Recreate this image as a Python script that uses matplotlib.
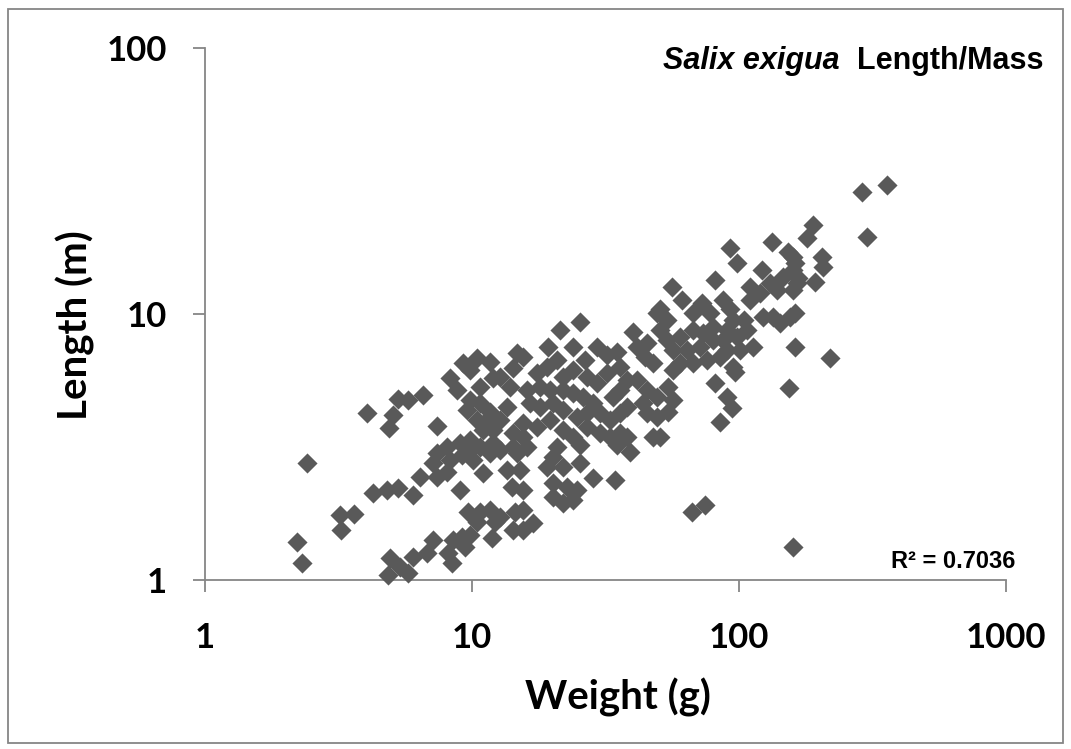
import matplotlib
matplotlib.use("Agg")
import matplotlib.pyplot as plt
from matplotlib.patches import Rectangle

# weight (g) / length (m)
weight_g = [
    2.21, 2.31, 2.41, 3.2, 3.61, 3.23, 4.04, 4.26,
    5.28, 5.75, 6.55, 5.06, 4.89, 7.39,
    4.93, 4.85, 5.37, 5.75, 6.01, 6.78, 7.14, 8.13, 8.41, 8.49, 9.18, 9.42, 9.83,
    9.66, 10.7, 10.4, 11.7, 12.2, 12.7, 11.9, 14.2, 14.5,
    4.81, 5.28, 6.01, 6.38, 7.14, 7.39, 8.06, 8.27, 9.02, 9.18, 9.83, 10.1, 10.7,
    11.0, 12.0, 11.7, 13.5, 14.1, 14.7,
    8.27, 8.79, 9.25, 9.83, 10.4, 10.7, 11.7, 12.0, 9.83, 9.58, 10.7, 11.7, 10.4,
    11.0, 12.0, 12.7, 13.5, 13.9, 14.2, 14.7, 12.7, 7.39, 8.06, 9.02, 9.83, 12.7,
    14.2, 14.2, 11.4,
    25.4, 21.4, 19.3, 23.9, 29.4, 26.5, 32.0, 34.9, 40.1, 41.5, 45.2, 49.3, 44.5,
    47.6, 15.5, 17.5, 19.1, 20.8, 21.9, 23.9, 27.0, 29.4, 32.0, 35.8, 38.1, 41.5,
    45.2, 35.8, 33.7, 16.1, 18.0, 19.6, 21.9, 23.9, 26.0, 28.4, 30.2, 32.9, 35.8,
    38.1, 43.7, 49.3, 45.2, 16.5, 18.0, 20.1, 21.9, 24.7, 27.0, 27.0, 30.2, 15.5,
    15.5, 17.5, 19.6, 21.9, 23.9, 32.9, 35.8, 49.3, 47.6,
    16.1, 20.8, 25.4, 20.1, 19.1, 21.9, 25.4, 28.4, 34.3, 20.1, 22.7, 24.7, 20.1,
    21.9, 23.9, 15.5, 15.5, 16.9, 15.5, 15.1, 34.9, 39.0, 38.1,
    92.5, 98.3, 133, 153, 122, 56.1, 61.2, 81.3, 72.6, 67.3, 50.6, 53.7, 77.8,
    87.1, 92.5, 110, 110, 120, 131, 139, 146, 159, 165, 123, 134, 143, 155, 95,
    104, 90.2, 80, 73.3, 67.3, 60.1, 53.7, 50.6, 56.6, 63.8, 71.4, 80, 87.1, 98.3,
    107, 113, 101, 90.2, 60.1, 67.3, 75.9, 84.9, 95, 56.6,
    54.2, 56.6, 54.2, 81.3, 90.2, 94.2, 84.9, 96.6, 50.6, 66.7, 74.6, 159,
    289, 358, 302, 189, 180, 205, 206, 193, 159, 162, 166, 159, 162, 162, 219, 154,
]
length_m = [
    1.39, 1.16, 2.75, 1.75, 1.77, 1.54, 4.24, 2.12,
    4.79, 4.75, 4.96, 4.17, 3.73, 3.79,
    1.21, 1.04, 1.12, 1.06, 1.22, 1.26, 1.41, 1.26, 1.16, 1.41, 1.45, 1.33, 1.48,
    1.80, 1.80, 1.65, 1.83, 1.65, 1.73, 1.44, 1.54, 1.80,
    2.18, 2.22, 2.09, 2.44, 2.75, 2.44, 2.55, 2.83, 2.18, 2.95, 3.08, 2.83, 3.16,
    2.53, 3.27, 3.0, 2.59, 2.24, 3.0,
    5.75, 5.18, 6.55, 6.16, 6.84, 5.32, 6.6, 5.75, 4.75, 4.36, 4.63, 4.28, 4.0,
    3.66, 3.66, 4.0, 4.47, 5.32, 6.27, 7.13, 5.8, 3.0, 3.16, 3.27, 3.36, 3.08,
    3.16, 3.57, 4.0,
    9.33, 8.71, 7.52, 7.52, 7.52, 6.71, 7.01, 7.2, 8.56, 7.52, 7.78, 10.1, 6.89,
    6.55, 6.89, 6.0, 6.32, 6.71, 5.8, 6.16, 5.8, 5.5, 6.0, 6.32, 5.65, 5.65,
    5.18, 5.18, 4.88, 5.18, 5.32, 5.18, 5.18, 5.05, 4.88, 4.63, 4.24, 4.0, 4.24,
    4.47, 4.63, 4.88, 4.24, 4.63, 4.47, 4.63, 4.36, 4.1, 4.24, 3.76, 3.57, 3.89,
    3.45, 3.76, 4.0, 3.66, 3.45, 3.45, 3.57, 4.1, 3.45,
    3.16, 3.16, 3.22, 2.9, 2.66, 2.66, 2.75, 2.42, 2.38, 2.32, 2.24, 2.18, 2.05,
    1.95, 2.0, 2.18, 1.83, 1.64, 1.54, 2.59, 3.22, 3.03, 3.45,
    17.7, 15.6, 18.7, 17.1, 14.6, 12.6, 11.3, 13.4, 11.0, 10.1, 10.4, 9.49, 10.1,
    11.3, 10.4, 12.6, 11.3, 12.0, 13.1, 12.3, 13.8, 14.6, 13.1, 9.75, 9.75, 9.25,
    9.75, 9.49, 9.49, 8.71, 8.93, 8.49, 8.71, 8.2, 7.98, 8.71, 7.32, 7.32, 7.52,
    7.98, 7.98, 8.2, 8.71, 7.52, 7.32, 7.32, 6.55, 6.55, 6.71, 6.89, 6.32, 6.16,
    5.32, 4.75, 4.28, 5.5, 4.88, 4.43, 3.93, 6.05, 3.45, 1.80, 1.91, 1.33,
    28.8, 30.5, 19.5, 21.6, 19.3, 16.4, 15.0, 13.2, 16.4, 15.6, 13.7, 12.3, 10.1,
    7.5, 6.84, 5.27,
]
x_ticks = [1, 10, 100, 1000]
y_ticks = [1, 10, 100]
r2_text = "R\u00b2 = 0.7036"

grey = "#868686"
label_font = "Lato"

fig = plt.figure(figsize=(10.71, 7.49), dpi=100)
ax = fig.add_axes([0.1914, 0.2256, 0.7479, 0.7103])

ax.scatter(weight_g, length_m, marker="D", s=105, color="#595959",
           linewidths=0, clip_on=False, zorder=3)

ax.set_xscale("log")
ax.set_yscale("log")
ax.set_xlim(1, 1000)
ax.set_ylim(1, 100)
ax.set_xticks(x_ticks)
ax.set_yticks(y_ticks)
ax.set_xticklabels([str(t) for t in x_ticks])
ax.set_yticklabels([str(t) for t in y_ticks])
ax.minorticks_off()

for s in ["top", "right"]:
    ax.spines[s].set_visible(False)
for s in ["left", "bottom"]:
    ax.spines[s].set_color(grey)
    ax.spines[s].set_linewidth(1.3)
ax.tick_params(axis="both", direction="out", length=8.5, width=1.3, color=grey)
ax.tick_params(axis="x", pad=22)
ax.tick_params(axis="y", pad=19)
for lab in ax.get_xticklabels() + ax.get_yticklabels():
    lab.set_fontfamily(label_font)
    lab.set_fontweight("bold")
    lab.set_fontsize(25)

ax.set_xlabel("Weight (g)", fontfamily=label_font, fontweight="bold", fontsize=29)
ax.set_ylabel("Length (m)", fontfamily=label_font, fontweight="bold", fontsize=29)
ax.xaxis.label.set_va("center")
ax.yaxis.label.set_va("center")
ax.xaxis.set_label_coords(0.516, -0.22)
ax.yaxis.set_label_coords(-0.162, 0.479)

# title: italic species name followed by plain bold text
t_main = fig.text(0.974, 0.9186, "Length/Mass", ha="right", va="center",
                  fontfamily="Liberation Sans", fontweight="bold", fontsize=22)
ax.annotate("Salix exigua  ", xy=(0, 0.5), xycoords=t_main, ha="right", va="center",
            fontfamily="Liberation Sans", fontweight="bold", fontstyle="italic",
            fontsize=22)
fig.text(0.948, 0.2497, r2_text, ha="right", va="center",
         fontfamily="Liberation Sans", fontweight="bold", fontsize=17)

fig.patches.append(Rectangle((0.0075, 0.0075), 0.985, 0.98, transform=fig.transFigure,
                             fill=False, edgecolor=grey, linewidth=1.3))

fig.savefig("out.png", dpi=100)
